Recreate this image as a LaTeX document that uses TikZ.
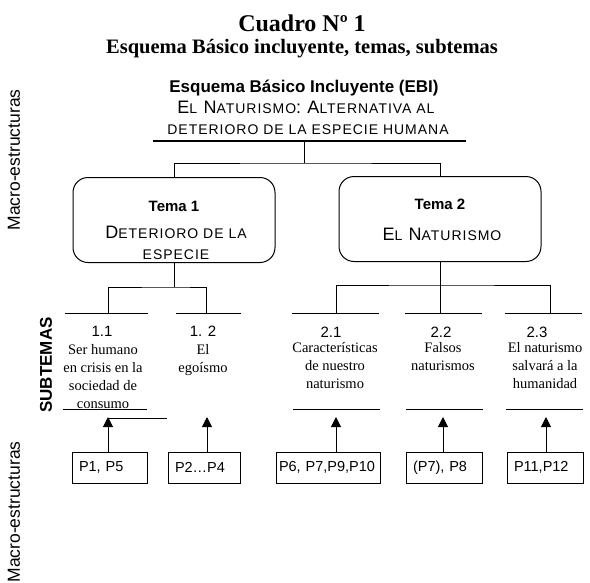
\documentclass[tikz,border=0pt]{standalone}
\usepackage{fontspec}
\setmainfont{Liberation Serif}
\setsansfont{Liberation Sans}
\newfontfamily\versalita[LetterSpace=7]{Liberation Sans}
\usetikzlibrary{arrows.meta}
\newcommand{\pc}[1]{{\fontsize{14}{16}\selectfont #1}}

\begin{document}
\begin{tikzpicture}[x=1pt, y=-1pt,
	titulo/.style={font=\fontsize{20.5}{24}\selectfont\bfseries, inner sep=0},
	ebi/.style={font=\sffamily\bfseries\fontsize{17}{20}\selectfont, inner sep=0},
	versal/.style={font=\versalita\fontsize{18}{21}\selectfont, inner sep=0, align=center},
	tema/.style={draw, line width=1pt, rounded corners=15pt, minimum width=202pt, minimum height=85pt},
	titema/.style={font=\sffamily\bfseries\fontsize{15}{18}\selectfont, inner sep=0},
	numero/.style={font=\sffamily\fontsize{15}{17}\selectfont, inner sep=0},
	subtema/.style={font=\fontsize{14.5}{18}\selectfont, align=center, inner sep=0, anchor=north},
	pbox/.style={draw, line width=0.9pt, minimum height=31pt, inner xsep=7pt, align=left, font=\sffamily\fontsize{14.5}{17}\selectfont},
	lado/.style={rotate=90, font=\sffamily\fontsize{17.5}{20}\selectfont, inner sep=0},
	flecha/.style={line width=1pt, -{Triangle[width=10pt,length=10pt]}},
	linea/.style={line width=1pt}
]
	\useasboundingbox (0,0) rectangle (590,582);

	\node[titulo, font=\fontsize{24}{26}\selectfont\bfseries] (cuadro) at (302,23) {Cuadro Nº 1};
	\node[titulo] (esquema) at (302,49) {Esquema Básico incluyente, temas, subtemas};

	\node[ebi] (ebi) at (304,88) {Esquema Básico Incluyente (EBI)};
	\node[versal] (alt) at (306,107) {E\pc{L} N\pc{ATURISMO}: A\pc{LTERNATIVA AL}};
	\node[versal] (det) at (308,130) {\pc{DETERIORO DE LA ESPECIE HUMANA}};
	\draw[line width=2.5pt] (153,141) -- (466,141);
	\coordinate (raiz) at (304,141);

	\node[tema] (tema1) at (174,220) {};
	\node[tema] (tema2) at (440,219) {};
	\draw[linea] (raiz) -- ++(0,22) coordinate (nudo0);
	\draw[linea] (tema1.north) |- (nudo0) -| (tema2.north);

	\node[titema] (t1) at (174,206) {Tema 1};
	\node[versal] (t1b) at (176,243) {D\pc{ETERIORO DE LA}\\[0pt]\pc{ESPECIE}};
	\node[titema] (t2) at (440,204) {Tema 2};
	\node[versal] (t2b) at (442,234) {E\pc{L} N\pc{ATURISMO}};

	% subtemas
	\coordinate (s11) at (108,313);
	\coordinate (s12) at (206,313);
	\coordinate (s21) at (336,313);
	\coordinate (s22) at (440,313);
	\coordinate (s23) at (550,313);
	\draw[linea] (65,313) -- (148,313);
	\draw[linea] (176,313) -- (241,313);
	\draw[linea] (292,313) -- (379,313);
	\draw[linea] (405,313) -- (482,313);
	\draw[linea] (505,313) -- (582,313);

	\draw[linea] (tema1.south) -- ++(0,24) coordinate (nudo1);
	\draw[linea] (s11) |- (nudo1) -| (s12);
	\draw[linea] (tema2.south) -- ++(0,23) coordinate (nudo2);
	\draw[linea] (s21) |- (nudo2) -| (s23);
	\draw[linea] (nudo2) -- (s22);

	\node[numero] (n11) at (102,331) {1.1};
	\node[numero] (n12) at (203,331) {1. 2};
	\node[numero] (n21) at (331,332) {2.1};
	\node[numero] (n22) at (441,332) {2.2};
	\node[numero] (n23) at (537,332) {2.3};

	\node[subtema] (x11) at (103,344) {Ser humano\\en crisis en la\\sociedad de\\consumo};
	\node[subtema] (x12) at (203,344) {El\\egoísmo};
	\node[subtema] (x21) at (335,342) {Características\\de nuestro\\naturismo};
	\node[subtema] (x22) at (443,342) {Falsos\\naturismos};
	\node[subtema] (x23) at (545,342) {El naturismo\\salvará a la\\humanidad};

	\draw[linea] (63,409) -- (147,409);
	\draw[linea] (108,418) -- (167,418);
	\draw[linea] (293,409) -- (380,409);
	\draw[linea] (406,409) -- (483,409);
	\draw[linea] (506,409) -- (583,409);

	% macro-estructuras
	\node[pbox, text width=61pt] (p1) at (109.5,467.5) {P1, P5};
	\node[pbox, text width=58pt] (p2) at (204,467.5) {P2…P4};
	\node[pbox, inner xsep=3pt, text width=98pt] (p3) at (328,467.5) {P6, P7,P9,P10};
	\node[pbox, text width=62pt] (p4) at (444,467.5) {(P7), P8};
	\node[pbox, text width=62pt] (p5) at (545,467.5) {P11,P12};

	\coordinate (f1) at (108,417);
	\coordinate (f2) at (207,417);
	\coordinate (f3) at (336,417);
	\coordinate (f4) at (443,417);
	\coordinate (f5) at (546,417);
	\draw[flecha] (p1.north -| f1) -- (f1);
	\draw[flecha] (p2.north -| f2) -- (f2);
	\draw[flecha] (p3.north -| f3) -- (f3);
	\draw[flecha] (p4.north -| f4) -- (f4);
	\draw[flecha] (p5.north -| f5) -- (f5);

	\node[lado] (macro1) at (14,160) {Macro-estructuras};
	\node[lado] (macro2) at (14,512) {Macro-estructuras};
	\node[lado, font=\sffamily\bfseries\fontsize{17}{20}\selectfont] (subt) at (46,365) {SUBTEMAS};
\end{tikzpicture}
\end{document}
